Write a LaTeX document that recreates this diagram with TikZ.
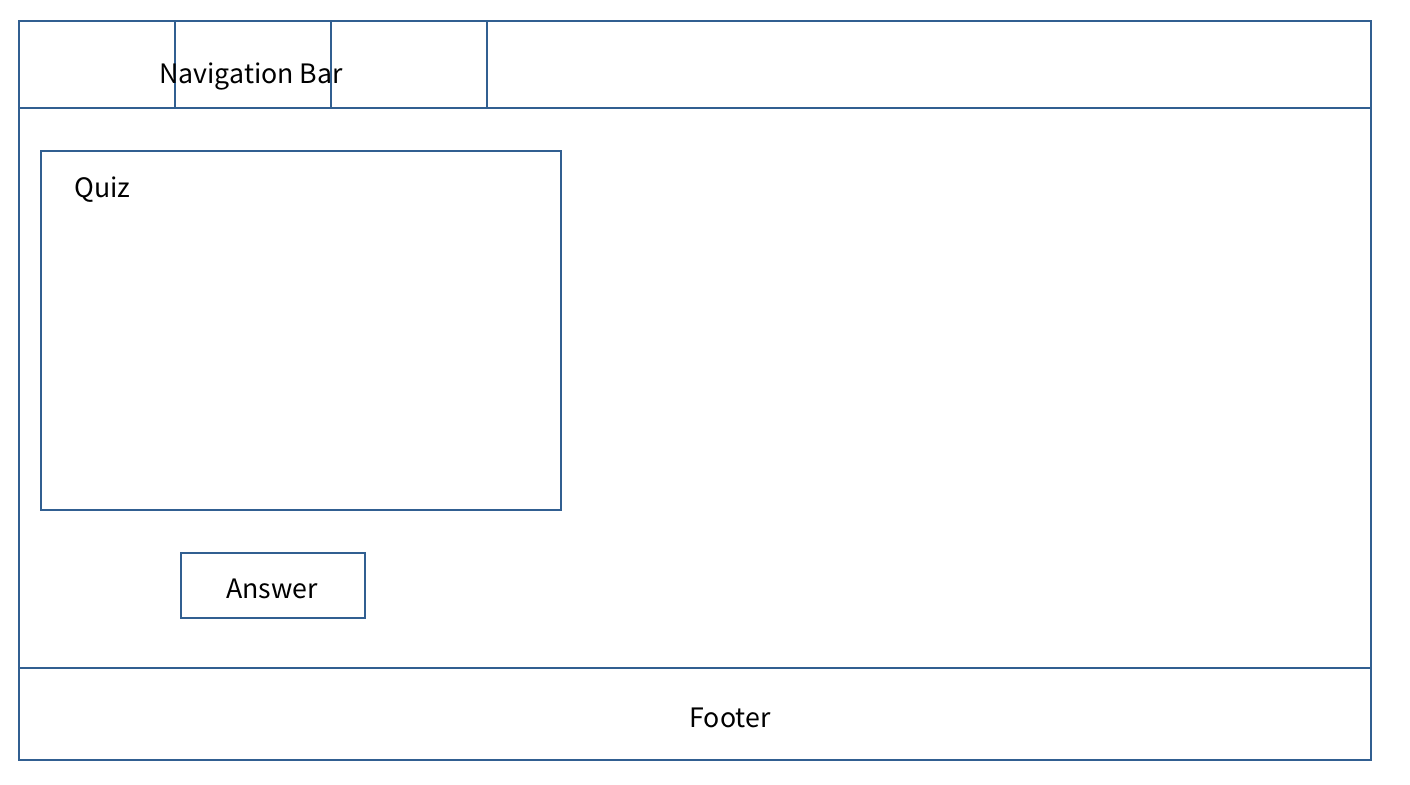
\documentclass[tikz,border=0pt]{standalone}
\usepackage{fontspec}
\setmainfont{Noto Sans CJK JP}
\definecolor{wire}{RGB}{49,95,145}
\begin{document}
\begin{tikzpicture}[x=1pt,y=-1pt,
  box/.style={draw=wire,line width=2pt},
  lbl/.style={font=\fontsize{26.7}{32}\selectfont,text=black,inner sep=0pt}]
\useasboundingbox[fill=white] (0,0) rectangle (1410,784);
% outer frame parts
\draw[box] (19,21) rectangle (1371,108);
\draw[box] (19,108) rectangle (1371,668);
\draw[box] (19,668) rectangle (1371,760);
\draw[box] (175,21) -- (175,108);
\draw[box] (331,21) -- (331,108);
\draw[box] (487,21) -- (487,108);
\node[lbl] (nav) at (251,76) {Navigation Bar};
% quiz
\draw[box] (41,151) rectangle (561,510);
\node[lbl,anchor=west] (quiz) at (74,190) {Quiz};
% answer
\node[box,minimum width=184pt,minimum height=65pt,inner sep=0pt] (ansbox) at (273,585.5) {};
\node[lbl] (ans) at (272,589) {Answer};
% footer
\node[lbl] (foot) at (730,718) {Footer};
\end{tikzpicture}
\end{document}
